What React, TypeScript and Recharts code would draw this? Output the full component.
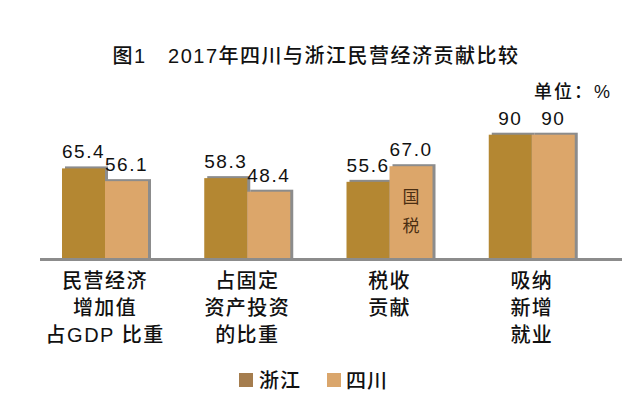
import { BarChart, Bar, XAxis, YAxis, LabelList, Legend } from 'recharts';

const categories = ['民营经济\n增加值\n占GDP 比重', '占固定\n资产投资\n的比重', '税收\n贡献', '吸纳\n新增\n就业'];
const zhejiang = [65.4, 58.3, 55.6, 90];
const sichuan = [56.1, 48.4, 67.0, 90];
const zhejiangLabels = ['65.4', '58.3', '55.6', '90'];
const sichuanLabels = ['56.1', '48.4', '67.0', '90'];
const sichuanNotes = ['', '', '国税', ''];

const FONT = '"Liberation Sans", "Noto Sans CJK SC", sans-serif';
const ZJ_COLOR = '#b48732';
const SC_COLOR = '#dca66a';
const SHADOW = '#8c8c8c';

const data = categories.map((name, i) => ({
  name,
  zj: zhejiang[i],
  sc: sichuan[i],
  zjLabel: zhejiangLabels[i],
  scLabel: sichuanLabels[i],
  note: sichuanNotes[i],
}));

// bar with a thin grey edge on top/right
const ShadowBar = (props: any) => {
  const { x, y, width, height, fill } = props;
  if (!height || height <= 0) return null;
  return (
    <g>
      <rect x={x + 3} y={y - 2} width={width} height={height + 2} fill={SHADOW} />
      <rect x={x} y={y} width={width} height={height} fill={fill} />
    </g>
  );
};

const ValueLabel = (props: any) => {
  const { x, y, width, value } = props;
  return (
    <text
      x={x + width / 2}
      y={y - 10}
      textAnchor="middle"
      fontSize={19}
      letterSpacing={1.5}
      fontFamily={FONT}
      fill="#111"
    >
      {value}
    </text>
  );
};

const NoteLabel = (props: any) => {
  const { x, y, width, value } = props;
  if (!value) return null;
  return (
    <g>
      {String(value).split('').map((ch, i) => (
        <text
          key={i}
          x={x + width / 2}
          y={y + 31 + i * 29}
          textAnchor="middle"
          dominantBaseline="central"
          fontSize={17}
          fontFamily={FONT}
          fill="#4a2e12"
        >
          {ch}
        </text>
      ))}
    </g>
  );
};

const CategoryTick = (props: any) => {
  const { x, y, payload } = props;
  const lines = String(payload.value).split('\n');
  return (
    <g>
      {lines.map((line, i) => (
        <text
          key={i}
          x={x}
          y={y + 23 + i * 27}
          textAnchor="middle"
          dominantBaseline="central"
          fontSize={20}
          fontWeight={500}
          letterSpacing={1.5}
          fontFamily={FONT}
          fill="#111"
        >
          {line}
        </text>
      ))}
    </g>
  );
};

const renderLegend = () => (
  <div style={{ display: 'flex', alignItems: 'center', marginLeft: 239, fontFamily: FONT, fontSize: 20, fontWeight: 500, color: '#111' }}>
    <span style={{ width: 14, height: 14, background: '#a57d4e', display: 'inline-block' }} />
    <span style={{ marginLeft: 6, letterSpacing: 1 }}>浙江</span>
    <span style={{ width: 14, height: 14, background: '#daa66c', display: 'inline-block', marginLeft: 26 }} />
    <span style={{ marginLeft: 5, letterSpacing: 1 }}>四川</span>
  </div>
);

export default function App() {
  return (
    <div style={{ position: 'absolute', left: 0, top: 0, width: 640, height: 406, background: '#fff' }}>
      <div
        style={{
          position: 'absolute',
          left: 0,
          top: 42,
          width: 632,
          textAlign: 'center',
          fontFamily: FONT,
          fontSize: 20,
          fontWeight: 500,
          letterSpacing: 1.5,
          lineHeight: '28px',
          color: '#111',
          whiteSpace: 'pre',
        }}
      >
        图1　2017年四川与浙江民营经济贡献比较
      </div>
      <div
        style={{
          position: 'absolute',
          right: 28,
          top: 79,
          fontFamily: FONT,
          fontSize: 18,
          fontWeight: 500,
          letterSpacing: 2,
          lineHeight: '26px',
          color: '#111',
        }}
      >
        单位：%
      </div>
      <BarChart
        width={640}
        height={406}
        data={data}
        margin={{ top: 121, right: 37, bottom: 58, left: 34 }}
        barSize={43}
        barGap={0}
      >
        <XAxis
          dataKey="name"
          axisLine={false}
          tickLine={false}
          tickSize={0}
          tickMargin={0}
          height={90}
          interval={0}
          tick={<CategoryTick />}
        />
        <YAxis hide domain={[0, 100]} />
        <Legend
          layout="horizontal"
          verticalAlign="middle"
          align="center"
          wrapperStyle={{ top: 365, left: 0, width: 640, height: 24 }}
          content={renderLegend}
        />
        <Bar dataKey="zj" name="浙江" fill={ZJ_COLOR} shape={<ShadowBar />} isAnimationActive={false}>
          <LabelList dataKey="zjLabel" content={<ValueLabel />} />
        </Bar>
        <Bar dataKey="sc" name="四川" fill={SC_COLOR} shape={<ShadowBar />} isAnimationActive={false}>
          <LabelList dataKey="scLabel" content={<ValueLabel />} />
          <LabelList dataKey="note" content={<NoteLabel />} />
        </Bar>
      </BarChart>
      <div style={{ position: 'absolute', left: 40, top: 258, width: 582, height: 3, background: SHADOW }} />
    </div>
  );
}
